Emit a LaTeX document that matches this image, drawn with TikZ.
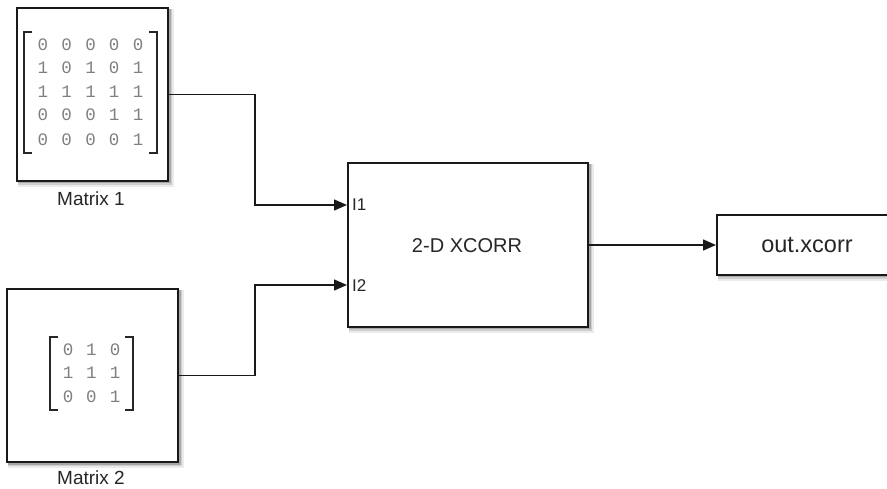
\documentclass[tikz,border=0pt]{standalone}
\usepackage{fontspec}
\setmainfont{Liberation Sans}
\newfontfamily\digitfont{Liberation Mono}
\usetikzlibrary{arrows.meta,calc}
\definecolor{txt}{HTML}{262626}
\definecolor{dig}{HTML}{808080}
\tikzset{
  blk/.style={draw=black!90, line width=2pt, fill=white, inner sep=0pt},
  conn/.style={draw=black!90, line width=1.4pt},
  arr/.style={conn, -{Triangle[length=13pt,width=11pt]}},
  lbl/.style={text=txt, font=\fontsize{19}{22}\selectfont, inner sep=0pt},
  dg/.style={text=dig, font=\digitfont\fontsize{17.5}{20}\selectfont, inner sep=0pt},
  brk/.style={draw=black!85, line width=1.5pt}
}
\newcommand{\shadowbox}[4]{%
  \fill[black, opacity=0.08] (#1+1,#2+1) rectangle (#3+6,#4+6);
  \fill[black, opacity=0.12] (#1+1,#2+1) rectangle (#3+4,#4+4);
  \fill[black, opacity=0.18] (#1+1,#2+1) rectangle (#3+2.5,#4+2.5);
}
\begin{document}
\begin{tikzpicture}[x=1pt,y=-1pt]
\clip (0,0) rectangle (887,489);
\fill[white] (0,0) rectangle (887,489);
% shadows
\shadowbox{17}{8}{168}{181}
\shadowbox{7}{289}{178}{462}
\shadowbox{348}{163}{588}{327}
\shadowbox{717}{215}{960}{275}
% blocks
\node[blk, minimum width=151pt, minimum height=173pt] (m1) at (92.5,94.5) {};
\node[blk, minimum width=171pt, minimum height=173pt] (m2) at (92.5,375.5) {};
\node[blk, minimum width=240pt, minimum height=164pt] (xc) at (468,245) {};
\node[blk, minimum width=243pt, minimum height=60pt] (out) at (838.5,245) {};
% labels
\node[lbl] (l1) at (91,198.5) {Matrix 1};
\node[lbl] (l2) at (91,478) {Matrix 2};
\node[lbl, font=\fontsize{20}{22}\selectfont] (xt) at (467,246) {2-D XCORR};
\node[lbl, font=\fontsize{23.5}{26}\selectfont] (ot) at (807,245) {out.xcorr};
\node[lbl, anchor=west, font=\fontsize{17}{20}\selectfont] (p1) at (352,205) {I1};
\node[lbl, anchor=west, font=\fontsize{17}{20}\selectfont] (p2) at (352,286) {I2};
\coordinate (in1) at (xc.west |- 0,205);
\coordinate (in2) at (xc.west |- 0,285);
% matrix 1 contents
\draw[brk] (32,32) -- (24,32) -- (24,153) -- (32,153);
\draw[brk] (149,32) -- (157,32) -- (157,153) -- (149,153);
\foreach \r/\row in {45/{0,0,0,0,0},68/{1,0,1,0,1},92/{1,1,1,1,1},115/{0,0,0,1,1},140/{0,0,0,0,1}}{
  \foreach \v [count=\c] in \row {
    \node[dg] at ({43+23.75*(\c-1)},\r) {\v};
  }
}
% matrix 2 contents
\draw[brk] (58,337) -- (50,337) -- (50,410) -- (58,410);
\draw[brk] (125,337) -- (133,337) -- (133,410) -- (125,410);
\foreach \r/\row in {350/{0,1,0},373/{1,1,1},397/{0,0,1}}{
  \foreach \v [count=\c] in \row {
    \node[dg] at ({68+23.5*(\c-1)},\r) {\v};
  }
}
% connectors
\draw[arr] (m1.east) -- ++(86,0) |- (in1);
\draw[arr] (m2.east) -- ++(76,0) |- (in2);
\draw[arr] (xc.east) -- (out.west);
\end{tikzpicture}
\end{document}
